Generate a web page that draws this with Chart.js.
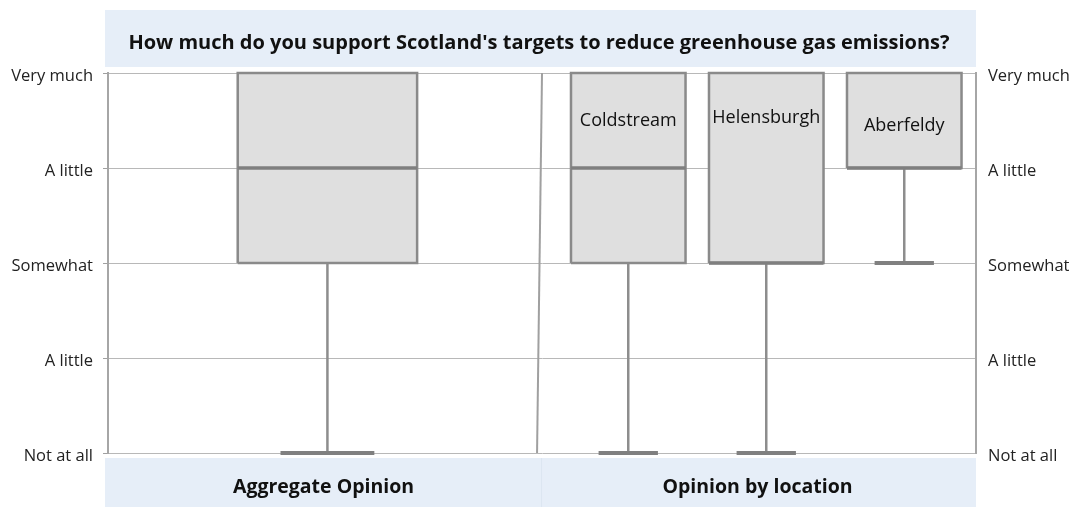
<!DOCTYPE html>
<html lang="en">

<head>
    <meta charset="UTF-8">
    <title>Scotland targets</title>
    <style>
        html, body { margin: 0; padding: 0; background: #fff; }
        #wrap { position: relative; width: 1075px; height: 507px; }
    </style>
</head>

<body>
    <div id="wrap"><canvas id="myChart"></canvas></div>

    <script src="https://cdn.jsdelivr.net/npm/chart.js"></script>

    <script>
        // datos
        const categories = ['Aggregate', 'Coldstream', 'Helensburgh', 'Aberfeldy']
        const minValues = [0, 0, 0, 2]
        const q1Values = [2, 2, 2, 3]
        const medianValues = [3, 3, 2, 3]
        const q3Values = [4, 4, 4, 4]
        const maxValues = [4, 4, 4, 4]
        const tickLabels = ['Not at all', 'A little', 'Somewhat', 'A little', 'Very much']
        const titleText = "How much do you support Scotland's targets to reduce greenhouse gas emissions?"
        const groupLabels = ['Aggregate Opinion', 'Opinion by location']

        // layout (x units on the linear axis)
        const xCenter = [1.59, 3.77, 4.77, 5.77]
        const halfBox = [0.65, 0.415, 0.415, 0.415]
        const halfCap = [0.34, 0.215, 0.215, 0.215]
        const separator = [3.145, 3.109]
        const FONT = '"Open Sans", sans-serif'

        const line = (pts, color, width, order) => ({
            data: pts, showLine: true, fill: false, borderColor: color, borderWidth: width,
            pointRadius: 0, order: order, clip: 6, borderCapStyle: 'butt'
        })

        const datasets = []
        categories.forEach((cat, i) => {
            const c = xCenter[i], h = halfBox[i], hc = halfCap[i]
            if (minValues[i] < q1Values[i]) {
                datasets.push(line([{ x: c, y: minValues[i] }, { x: c, y: q1Values[i] }], '#8d8d8d', 2.5, 4))
            }
            datasets.push(line([{ x: c - hc, y: minValues[i] }, { x: c + hc, y: minValues[i] }], '#808080', 4, 1))
            const box = line([
                { x: c - h, y: q1Values[i] }, { x: c + h, y: q1Values[i] },
                { x: c + h, y: q3Values[i] }, { x: c - h, y: q3Values[i] },
                { x: c - h, y: q1Values[i] }
            ], '#8a8a8a', 2.5, 3)
            box.fill = 'shape'
            box.backgroundColor = '#dfdfdf'
            box.borderJoinStyle = 'miter'
            datasets.push(box)
            datasets.push(line([{ x: c - h, y: medianValues[i] }, { x: c + h, y: medianValues[i] }], '#7f7f7f', 3.5, 2))
        })

        const decoPlugin = {
            id: 'deco',
            beforeDraw(chart) {
                const ctx = chart.ctx, a = chart.chartArea
                const xs = chart.scales.x
                ctx.save()
                ctx.fillStyle = '#e6eef8'
                ctx.fillRect(a.left - 3, 10, a.right - a.left + 3, 57)
                ctx.fillRect(a.left - 3, 458, a.right - a.left + 3, 49)
                ctx.fillStyle = '#dce5f1'
                const mid = xs.getPixelForValue(separator[1]) + 4
                ctx.fillRect(mid, 458, 1, 49)
                ctx.fillStyle = '#111'
                ctx.textAlign = 'center'
                ctx.textBaseline = 'middle'
                ctx.font = 'bold 20px ' + FONT
                ctx.fillText(titleText, 539, 43)
                ctx.font = 'bold 19.5px ' + FONT
                ctx.fillText(groupLabels[0], (a.left + mid) / 2 - 1, 487)
                ctx.fillText(groupLabels[1], (mid + a.right) / 2 - 1, 487)
                ctx.restore()
            },
            afterDatasetsDraw(chart) {
                const ctx = chart.ctx, a = chart.chartArea
                const xs = chart.scales.x, ys = chart.scales.y
                ctx.save()
                ctx.strokeStyle = '#a0a0a0'
                ctx.lineWidth = 2
                ctx.beginPath()
                ctx.moveTo(xs.getPixelForValue(separator[0]), a.top)
                ctx.lineTo(xs.getPixelForValue(separator[1]), a.bottom)
                ctx.stroke()
                ctx.fillStyle = '#111'
                ctx.textAlign = 'center'
                ctx.textBaseline = 'middle'
                ctx.font = '18px ' + FONT
                const offs = [0, 48, 45, 53]
                for (let i = 1; i < categories.length; i++) {
                    ctx.fillText(categories[i], xs.getPixelForValue(xCenter[i]), ys.getPixelForValue(q3Values[i]) + offs[i])
                }
                ctx.restore()
            }
        }

        const tickOpts = {
            stepSize: 1,
            color: '#222',
            labelOffset: 3,
            font: { family: FONT, size: 16.5 },
            callback: v => tickLabels[v]
        }

        new Chart(document.getElementById('myChart'), {
            type: 'scatter',
            data: { datasets: datasets },
            options: {
                responsive: true,
                maintainAspectRatio: false,
                animation: false,
                layout: { padding: { top: 73, bottom: 54, left: 0, right: 0 } },
                plugins: { legend: { display: false }, tooltip: { enabled: false } },
                scales: {
                    x: { type: 'linear', display: false, min: 0, max: 868 / 138 },
                    y: {
                        position: 'left', min: 0, max: 4,
                        ticks: Object.assign({ padding: 10 }, tickOpts),
                        grid: { color: '#b8b8b8', lineWidth: 1, tickLength: 5, tickColor: '#a0a0a0' },
                        border: { display: true, color: '#a6a6a6', width: 2 },
                        afterFit: s => { s.width = 108 }
                    },
                    y2: {
                        position: 'right', min: 0, max: 4,
                        ticks: Object.assign({ padding: 12 }, tickOpts),
                        grid: { drawOnChartArea: false, drawTicks: false },
                        border: { display: true, color: '#a6a6a6', width: 2 },
                        afterFit: s => { s.width = 99 }
                    }
                }
            },
            plugins: [decoPlugin]
        })
    </script>

</body>

</html>
